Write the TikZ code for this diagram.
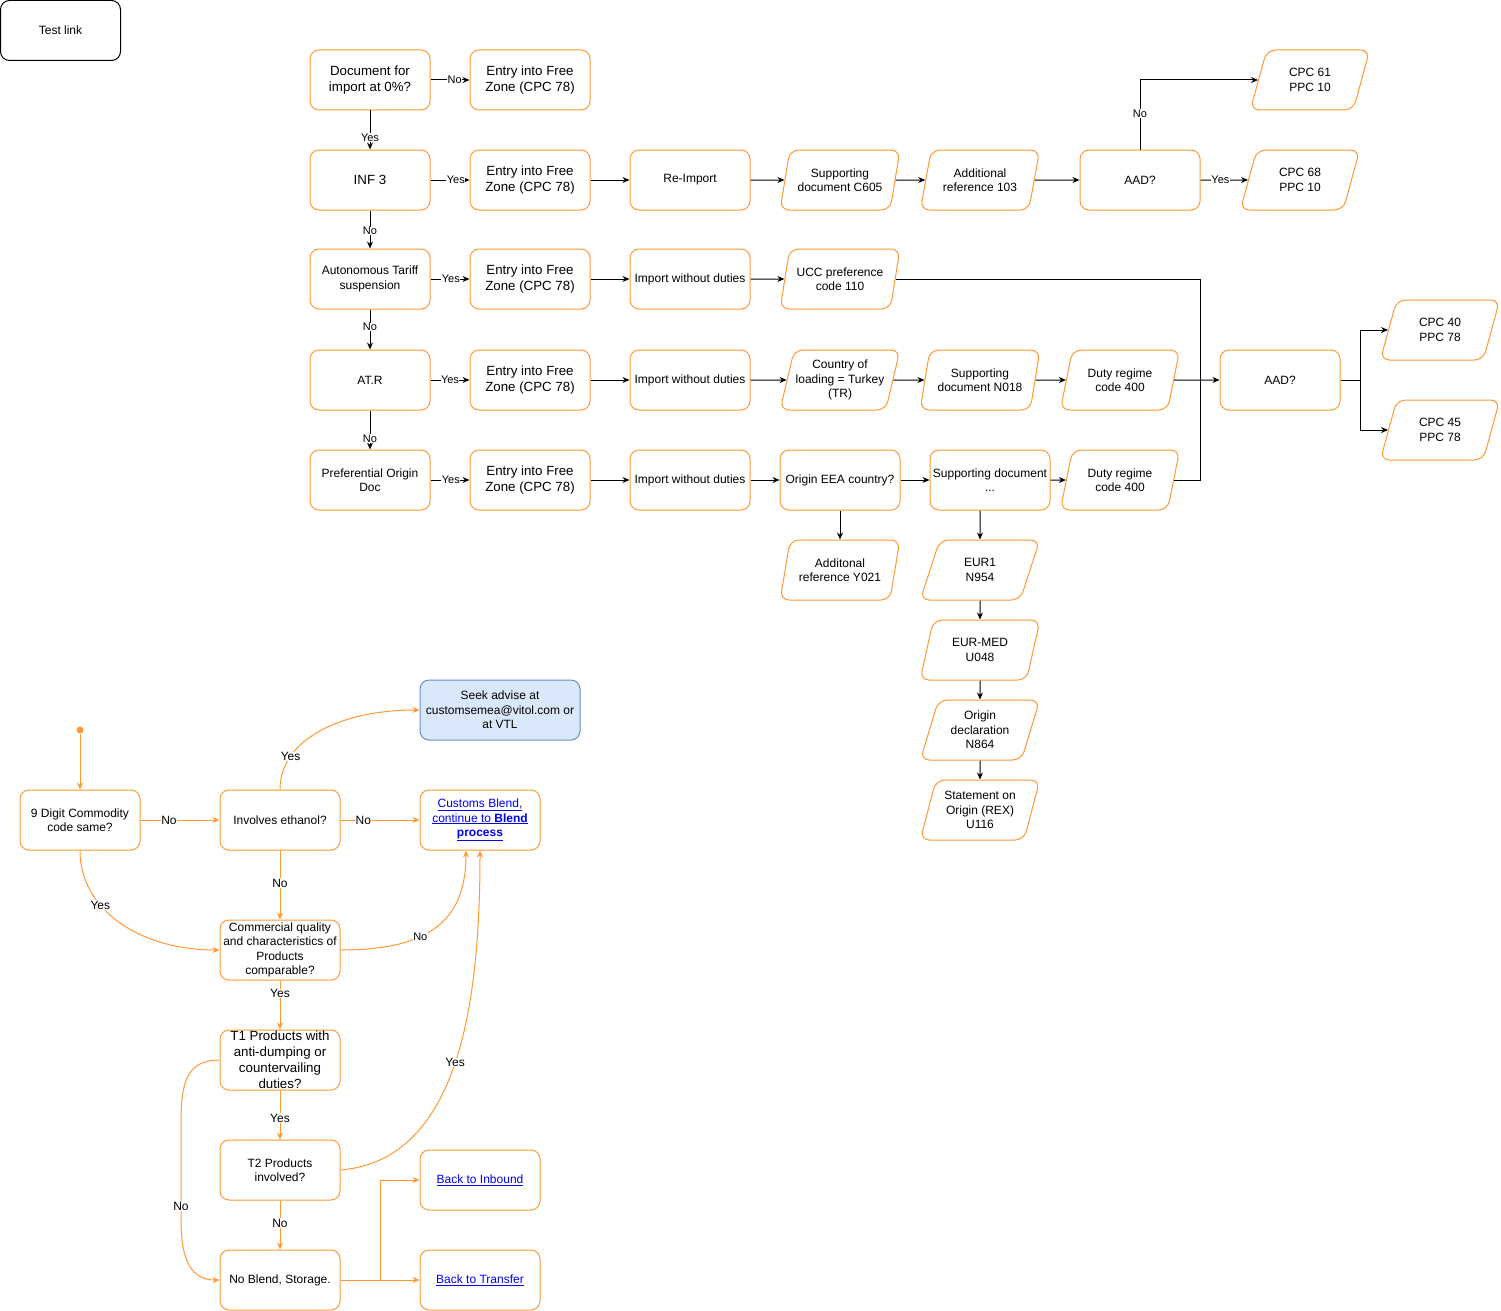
\documentclass[tikz,border=0pt]{standalone}
\usepackage{fontspec}
\setmainfont{Liberation Sans}
\usetikzlibrary{shapes.geometric,arrows.meta}
\definecolor{flow}{HTML}{FF9933}
\definecolor{advfill}{HTML}{DAE8FC}
\definecolor{advline}{HTML}{6C8EBF}
\definecolor{linkblue}{HTML}{0000EE}
\newcommand{\fbig}{\fontsize{13.3}{16}\selectfont}
\newcommand{\fsmall}{\fontsize{12}{14.5}\selectfont}
\newcommand{\flbl}{\fontsize{11}{13}\selectfont}
\newcommand{\flblb}{\fontsize{12}{14}\selectfont}
\newcommand{\weblink}[1]{\textcolor{linkblue}{\underline{#1}}}
\tikzset{
  flowbox/.style={draw=flow, line width=1pt, rounded corners=9pt, minimum width=120pt,
    minimum height=60pt, align=center, inner sep=1pt, font=\fsmall},
  ibox/.style={flowbox, font=\fbig},
  databox/.style={flowbox, trapezium, trapezium left angle=71.57,
    trapezium right angle=108.43, trapezium stretches=true},
  arr/.style={-{Stealth[length=7pt,width=6pt]}, line width=1pt},
  oarr/.style={arr, draw=flow},
  lbl/.style={fill=white, inner sep=0.5pt, font=\flbl},
  lblb/.style={lbl, font=\flblb},
  startdot/.style={circle, fill=flow, inner sep=0pt, minimum size=7pt},
}
\begin{document}
\begin{tikzpicture}[x=1pt,y=-1pt]
\useasboundingbox (0,0) rectangle (1501,1311);
\node[flowbox,draw=black] (test) at (60.5,30.5) {Test link};
%
% import decisions
\node[ibox] (doc0) at (370,80) {Document for\\import at 0\%?};
\node[ibox] (fz1) at (530,80) {Entry into Free\\Zone (CPC 78)};
\node[ibox] (inf) at (370,180) {INF 3};
\node[ibox] (fz2) at (530,180) {Entry into Free\\Zone (CPC 78)};
\node[flowbox] (reimp) at (690,180) {Re-Import};
\node[databox] (c605) at (840,180) {Supporting\\document C605};
\node[databox] (ref103) at (980,180) {Additional\\reference 103};
\node[flowbox] (aadA) at (1140,180) {AAD?};
\node[databox] (cpc61) at (1310,80) {CPC 61\\PPC 10};
\node[databox] (cpc68) at (1300,180) {CPC 68\\PPC 10};
\node[flowbox] (ats) at (370,279) {Autonomous Tariff\\suspension};
\node[ibox] (fz3) at (530,279) {Entry into Free\\Zone (CPC 78)};
\node[flowbox] (imp3) at (690,279) {Import without duties};
\node[databox] (ucc) at (840,279) {UCC preference\\code 110};
\node[flowbox] (atr) at (370,380) {AT.R};
\node[ibox] (fz4) at (530,380) {Entry into Free\\Zone (CPC 78)};
\node[flowbox] (imp4) at (690,380) {Import without duties};
\node[databox] (tr) at (840,380) {Country of\\loading = Turkey\\(TR)};
\node[databox] (n018) at (980,380) {Supporting\\document N018};
\node[databox] (duty4) at (1120,380) {Duty regime\\code 400};
\node[flowbox] (aadB) at (1280,380) {AAD?};
\node[databox] (cpc40) at (1440,330) {CPC 40\\PPC 78};
\node[databox] (cpc45) at (1440,430) {CPC 45\\PPC 78};
\node[flowbox] (pod) at (370,480) {Preferential Origin\\Doc};
\node[ibox] (fz5) at (530,480) {Entry into Free\\Zone (CPC 78)};
\node[flowbox] (imp5) at (690,480) {Import without duties};
\node[flowbox] (eea) at (840,480) {Origin EEA country?};
\node[flowbox] (supdoc) at (990,480) {Supporting document\\...};
\node[databox] (duty5) at (1120,480) {Duty regime\\code 400};
\node[databox] (y021) at (840,570) {Additonal\\reference Y021};
\node[databox] (eur1) at (980,570) {EUR1\\N954};
\node[databox] (eurmed) at (980,650) {EUR-MED\\U048};
\node[databox] (odecl) at (980,730) {Origin\\declaration\\N864};
\node[databox] (rex) at (980,810) {Statement on\\Origin (REX)\\U116};
%
\draw[arr] (doc0) -- node[lbl,pos=0.62] {No} (fz1);
\draw[arr] (doc0) -- node[lbl,pos=0.7] {Yes} (inf);
\draw[arr] (inf) -- node[lbl,pos=0.65] {Yes} (fz2);
\draw[arr] (inf) -- node[lbl,pos=0.54] {No} (ats);
\draw[arr] (fz2) -- (reimp);
\draw[arr] (reimp) -- (c605);
\draw[arr] (c605) -- (ref103);
\draw[arr] (ref103) -- (aadA);
\draw[arr] (aadA.north) |- node[lbl,pos=0.26] {No} (cpc61.left side);
\draw[arr] (aadA) -- node[lbl,pos=0.42] {Yes} (cpc68);
\draw[arr] (ats) -- node[lbl,pos=0.52] {Yes} (fz3);
\draw[arr] (ats) -- node[lbl,pos=0.44] {No} (atr);
\draw[arr] (fz3) -- (imp3);
\draw[arr] (imp3) -- (ucc);
\draw[arr] (atr) -- node[lbl,pos=0.5] {Yes} (fz4);
\draw[arr] (atr) -- node[lbl,pos=0.72] {No} (pod);
\draw[arr] (fz4) -- (imp4);
\draw[arr] (imp4) -- (tr);
\draw[arr] (tr) -- (n018);
\draw[arr] (n018) -- (duty4);
\draw[arr] (pod) -- node[lbl,pos=0.52] {Yes} (fz5);
\draw[arr] (fz5) -- (imp5);
\draw[arr] (imp5) -- (eea);
\draw[arr] (eea) -- (supdoc);
\draw[arr] (supdoc) -- (duty5);
\draw[arr] (eea) -- (y021);
\draw[arr] (supdoc.south -| eur1.center) -- (eur1);
\draw[arr] (eur1) -- (eurmed);
\draw[arr] (eurmed) -- (odecl);
\draw[arr] (odecl) -- (rex);
% joins into the second AAD
\coordinate (join) at (1200,380);
\coordinate (split) at (1360,380);
\draw[line width=1pt] (ucc.right side) -| (join);
\draw[line width=1pt] (duty5.right side) -| (join);
\draw[arr] (duty4) -- (aadB);
\draw[line width=1pt] (aadB) -- (split);
\draw[arr] (split) |- (cpc40.left side);
\draw[arr] (split) |- (cpc45.left side);
%
% blend check
\node[startdot] (start) at (80,730) {};
\node[flowbox] (dig9) at (80,820) {9 Digit Commodity\\code same?};
\node[flowbox] (eth) at (280,820) {Involves ethanol?};
\node[flowbox,minimum width=160pt,fill=advfill,draw=advline] (advice) at (500,710) {Seek advise at\\customsemea@vitol.com or\\at VTL};
\node[flowbox] (blend) at (480,820) {\weblink{Customs Blend,}\\\weblink{continue to \textbf{Blend}}\\\weblink{\textbf{process}}};
\node[flowbox,inner sep=0pt] (comq) at (280,950) {Commercial quality\\and characteristics of\\Products\\comparable?};
\node[ibox,inner sep=0pt] (t1) at (280,1060) {T1 Products with\\anti-dumping or\\countervailing\\duties?};
\node[flowbox] (t2) at (280,1170) {T2 Products\\involved?};
\node[flowbox] (nob) at (280,1280) {No Blend, Storage.};
\node[flowbox] (inb) at (480,1180) {\weblink{Back to Inbound}};
\node[flowbox] (trf) at (480,1280) {\weblink{Back to Transfer}};
%
\draw[oarr] (start) -- (dig9);
\draw[oarr] (dig9) -- node[lblb,pos=0.36] {No} (eth);
\draw[oarr] (eth) -- node[lblb,pos=0.29] {No} (blend);
\draw[oarr] (eth.north) .. controls (280,740) and (340,710) .. node[lblb,pos=0.25] {Yes} (advice.west);
\draw[oarr] (eth) -- node[lblb,pos=0.47] {No} (comq);
\draw[oarr] (dig9.south) .. controls (80,910) and (140,950) .. node[lblb,pos=0.35] {Yes} (comq.west);
\draw[oarr] (comq.east) .. controls (430,950) and (466,920) .. node[lbl,pos=0.38] {No} ([xshift=-14pt]blend.south);
\draw[oarr] (comq) -- node[lblb,pos=0.26] {Yes} (t1);
\draw[oarr] (t1) -- node[lblb,pos=0.56] {Yes} (t2);
\draw[oarr] (t2.east) .. controls (460,1160) and (480,1000) .. node[lblb,pos=0.5] {Yes} (blend.south);
\draw[oarr] (t2) -- node[lblb,pos=0.46] {No} (nob);
\draw[oarr] (t1.west) .. controls (185,1060) and (181,1085) .. (181,1125) -- node[lblb,pos=0.86] {No} (181,1220) .. controls (181,1262) and (192,1280) .. (nob.west);
\coordinate (fork) at (380,1280);
\draw[oarr] (nob) -- (trf);
\draw[oarr] (fork) |- (inb);
\end{tikzpicture}
\end{document}
